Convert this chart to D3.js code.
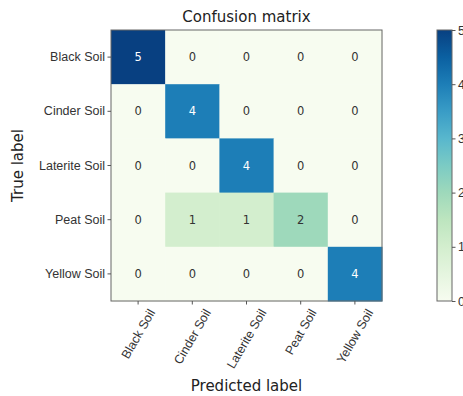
<!DOCTYPE html>
<html>
<head>
<meta charset="utf-8">
<script src="https://cdn.jsdelivr.net/npm/d3@7"></script>
<style>
  body { margin: 0; background: #fff; }
  svg { font-family: "DejaVu Sans", sans-serif; }
</style>
</head>
<body>
<div id="chart"></div>
<script>
// class names (rows = true, columns = predicted)
var classes = ["Black Soil", "Cinder Soil", "Laterite Soil", "Peat Soil", "Yellow Soil"];
var row0 = [5, 0, 0, 0, 0];
var row1 = [0, 4, 0, 0, 0];
var row2 = [0, 0, 4, 0, 0];
var row3 = [0, 1, 1, 2, 0];
var row4 = [0, 0, 0, 0, 4];
var matrix = [row0, row1, row2, row3, row4];
var cbarTicks = [0, 1, 2, 3, 4, 5];

var width = 463, height = 396;
var m = { left: 111, top: 30, size: 271 };
var fs = 12.5;

var svg = d3.select("#chart").append("svg")
  .attr("width", width).attr("height", height);

var x = d3.scaleBand().domain(d3.range(5)).range([m.left, m.left + m.size]);
var y = d3.scaleBand().domain(d3.range(5)).range([m.top, m.top + m.size]);
var vmax = 5;
var color = d3.scaleSequential(d3.interpolateGnBu).domain([0, vmax]);

// cells
var cells = [];
matrix.forEach(function(r, i) {
  r.forEach(function(v, j) { cells.push({ i: i, j: j, v: v }); });
});

svg.append("g").selectAll("rect").data(cells).enter().append("rect")
  .attr("x", function(d) { return x(d.j); })
  .attr("y", function(d) { return y(d.i); })
  .attr("width", x.bandwidth() + 0.5)
  .attr("height", y.bandwidth() + 0.5)
  .attr("fill", function(d) { return color(d.v); });

svg.append("g").selectAll("text").data(cells).enter().append("text")
  .attr("x", function(d) { return x(d.j) + x.bandwidth() / 2; })
  .attr("y", function(d) { return y(d.i) + y.bandwidth() / 2; })
  .attr("dy", "0.35em")
  .attr("text-anchor", "middle")
  .attr("font-size", 11.5)
  .attr("fill", function(d) { return d.v > vmax / 2 ? "#fff" : "#333"; })
  .text(function(d) { return d.v; });

// frame
svg.append("rect")
  .attr("x", m.left).attr("y", m.top)
  .attr("width", m.size).attr("height", m.size)
  .attr("fill", "none").attr("stroke", "#666").attr("stroke-width", 1);

// axes
var xAxis = d3.axisBottom(x).tickSize(3.5).tickSizeOuter(0)
  .tickFormat(function(d) { return classes[d]; });
var yAxis = d3.axisLeft(y).tickSize(3.5).tickSizeOuter(0)
  .tickFormat(function(d) { return classes[d]; });

var gx = svg.append("g")
  .attr("transform", "translate(0," + (m.top + m.size) + ")")
  .call(xAxis);
gx.select(".domain").remove();
gx.selectAll(".tick line").attr("stroke", "#555");
// rotated labels, bounding box centred under the tick
gx.selectAll(".tick text")
  .attr("font-size", fs).attr("fill", "#333")
  .attr("text-anchor", "middle")
  .attr("dy", "0.35em")
  .attr("y", 0).attr("x", 0)
  .attr("transform", function() {
    var L = this.getComputedTextLength();
    var h = L * Math.sin(Math.PI / 3) + fs * Math.cos(Math.PI / 3);
    return "translate(0," + (6 + h / 2) + ") rotate(-60)";
  });

var gy = svg.append("g")
  .attr("transform", "translate(" + m.left + ",0)")
  .call(yAxis);
gy.select(".domain").remove();
gy.selectAll(".tick line").attr("stroke", "#555");
gy.selectAll(".tick text").attr("font-size", fs).attr("fill", "#333").attr("x", -6);

// titles
svg.append("text")
  .attr("x", m.left + m.size / 2).attr("y", 22)
  .attr("text-anchor", "middle").attr("font-size", 15).attr("fill", "#222")
  .text("Confusion matrix");

svg.append("text")
  .attr("x", m.left + m.size / 2).attr("y", 391)
  .attr("text-anchor", "middle").attr("font-size", 15).attr("fill", "#222")
  .text("Predicted label");

svg.append("text")
  .attr("transform", "translate(23," + (m.top + m.size / 2) + ") rotate(-90)")
  .attr("text-anchor", "middle").attr("font-size", 15).attr("fill", "#222")
  .text("True label");

// colorbar
var cb = { x: 437, w: 15 };
var cy = d3.scaleLinear().domain([0, vmax]).range([m.top + m.size, m.top]);
var defs = svg.append("defs");
var grad = defs.append("linearGradient").attr("id", "cbgrad")
  .attr("x1", 0).attr("y1", 1).attr("x2", 0).attr("y2", 0);
d3.range(0, 1.01, 0.1).forEach(function(t) {
  grad.append("stop").attr("offset", t).attr("stop-color", d3.interpolateGnBu(t));
});
svg.append("rect")
  .attr("x", cb.x).attr("y", m.top)
  .attr("width", cb.w).attr("height", m.size)
  .attr("fill", "url(#cbgrad)")
  .attr("stroke", "#666").attr("stroke-width", 1);

var gc = svg.append("g")
  .attr("transform", "translate(" + (cb.x + cb.w) + ",0)")
  .call(d3.axisRight(cy).tickValues(cbarTicks).tickSize(3.5).tickFormat(d3.format("d")));
gc.select(".domain").remove();
gc.selectAll(".tick line").attr("stroke", "#555");
gc.selectAll(".tick text").attr("font-size", fs).attr("fill", "#333").attr("x", 6);
</script>
</body>
</html>
